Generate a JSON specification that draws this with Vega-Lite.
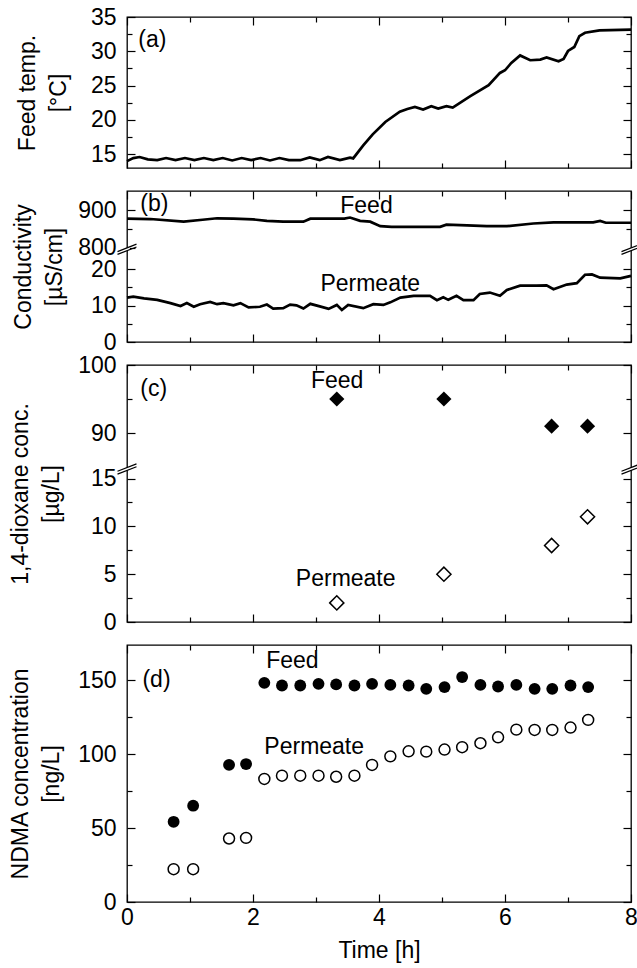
{
  "$schema": "https://vega.github.io/schema/vega-lite/v6.json",
  "padding": {"left": 8, "top": 5, "right": 0, "bottom": 0},
  "bounds": "flush",
  "spacing": 23,
  "datasets": {
    "tempA": [
      {"t":0,"v":14.0},{"t":0.1,"v":14.45},{"t":0.2,"v":14.6},{"t":0.33,"v":14.25},{"t":0.48,"v":14.15},{"t":0.62,"v":14.45},{"t":0.77,"v":14.15},{"t":0.92,"v":14.45},{"t":1.07,"v":14.15},{"t":1.22,"v":14.45},{"t":1.37,"v":14.15},{"t":1.52,"v":14.45},{"t":1.67,"v":14.1},{"t":1.82,"v":14.45},{"t":1.97,"v":14.15},{"t":2.12,"v":14.45},{"t":2.27,"v":14.1},{"t":2.42,"v":14.45},{"t":2.57,"v":14.15},{"t":2.75,"v":14.14},{"t":2.9,"v":14.53},{"t":3.06,"v":14.14},{"t":3.19,"v":14.6},{"t":3.38,"v":14.14},{"t":3.54,"v":14.5},{"t":3.59,"v":14.4},{"t":3.75,"v":16.3},{"t":3.9,"v":17.9},{"t":4.1,"v":19.7},{"t":4.33,"v":21.2},{"t":4.45,"v":21.6},{"t":4.57,"v":21.9},{"t":4.7,"v":21.52},{"t":4.83,"v":22.0},{"t":4.94,"v":21.67},{"t":5.07,"v":22.0},{"t":5.17,"v":21.8},{"t":5.45,"v":23.46},{"t":5.74,"v":25.06},{"t":5.92,"v":26.85},{"t":6.0,"v":27.24},{"t":6.1,"v":28.3},{"t":6.24,"v":29.4},{"t":6.4,"v":28.7},{"t":6.56,"v":28.8},{"t":6.66,"v":29.1},{"t":6.85,"v":28.55},{"t":6.93,"v":28.9},{"t":7.0,"v":30.05},{"t":7.1,"v":30.63},{"t":7.18,"v":32.2},{"t":7.27,"v":32.7},{"t":7.5,"v":33.06},{"t":8.0,"v":33.16}
    ],
    "condB": [
      {"t":0,"v":878,"s":"Feed"},{"t":0.37,"v":877,"s":"Feed"},{"t":0.9,"v":870,"s":"Feed"},{"t":1.2,"v":875,"s":"Feed"},{"t":1.43,"v":879,"s":"Feed"},{"t":1.69,"v":878,"s":"Feed"},{"t":2.0,"v":876,"s":"Feed"},{"t":2.22,"v":872,"s":"Feed"},{"t":2.48,"v":870,"s":"Feed"},{"t":2.8,"v":870,"s":"Feed"},{"t":2.91,"v":878,"s":"Feed"},{"t":3.2,"v":878,"s":"Feed"},{"t":3.45,"v":878,"s":"Feed"},{"t":3.54,"v":881,"s":"Feed"},{"t":3.7,"v":872,"s":"Feed"},{"t":3.86,"v":870,"s":"Feed"},{"t":4.02,"v":858,"s":"Feed"},{"t":4.2,"v":856,"s":"Feed"},{"t":4.6,"v":856,"s":"Feed"},{"t":4.97,"v":856,"s":"Feed"},{"t":5.07,"v":862,"s":"Feed"},{"t":5.4,"v":860,"s":"Feed"},{"t":5.71,"v":858,"s":"Feed"},{"t":6.03,"v":858,"s":"Feed"},{"t":6.45,"v":865,"s":"Feed"},{"t":6.77,"v":868,"s":"Feed"},{"t":7.2,"v":868,"s":"Feed"},{"t":7.4,"v":868,"s":"Feed"},{"t":7.51,"v":872,"s":"Feed"},{"t":7.6,"v":867,"s":"Feed"},{"t":8.0,"v":867,"s":"Feed"},
      {"t":0,"v":12.2,"s":"Permeate"},{"t":0.1,"v":12.5,"s":"Permeate"},{"t":0.27,"v":12.0,"s":"Permeate"},{"t":0.48,"v":11.6,"s":"Permeate"},{"t":0.69,"v":10.7,"s":"Permeate"},{"t":0.85,"v":9.9,"s":"Permeate"},{"t":0.95,"v":10.7,"s":"Permeate"},{"t":1.06,"v":9.7,"s":"Permeate"},{"t":1.16,"v":10.4,"s":"Permeate"},{"t":1.32,"v":11.0,"s":"Permeate"},{"t":1.43,"v":10.4,"s":"Permeate"},{"t":1.53,"v":10.7,"s":"Permeate"},{"t":1.69,"v":10.1,"s":"Permeate"},{"t":1.8,"v":10.7,"s":"Permeate"},{"t":1.93,"v":9.5,"s":"Permeate"},{"t":2.11,"v":9.7,"s":"Permeate"},{"t":2.22,"v":10.3,"s":"Permeate"},{"t":2.32,"v":9.2,"s":"Permeate"},{"t":2.48,"v":9.3,"s":"Permeate"},{"t":2.59,"v":10.3,"s":"Permeate"},{"t":2.69,"v":10.1,"s":"Permeate"},{"t":2.8,"v":9.2,"s":"Permeate"},{"t":2.91,"v":10.5,"s":"Permeate"},{"t":3.06,"v":9.8,"s":"Permeate"},{"t":3.2,"v":9.1,"s":"Permeate"},{"t":3.33,"v":10.2,"s":"Permeate"},{"t":3.41,"v":8.8,"s":"Permeate"},{"t":3.51,"v":10.2,"s":"Permeate"},{"t":3.75,"v":9.3,"s":"Permeate"},{"t":3.91,"v":10.4,"s":"Permeate"},{"t":4.07,"v":10.2,"s":"Permeate"},{"t":4.18,"v":10.9,"s":"Permeate"},{"t":4.34,"v":12.2,"s":"Permeate"},{"t":4.55,"v":12.7,"s":"Permeate"},{"t":4.81,"v":12.7,"s":"Permeate"},{"t":4.92,"v":11.5,"s":"Permeate"},{"t":5.02,"v":12.3,"s":"Permeate"},{"t":5.1,"v":11.6,"s":"Permeate"},{"t":5.23,"v":12.7,"s":"Permeate"},{"t":5.34,"v":11.5,"s":"Permeate"},{"t":5.5,"v":11.5,"s":"Permeate"},{"t":5.6,"v":13.2,"s":"Permeate"},{"t":5.76,"v":13.6,"s":"Permeate"},{"t":5.92,"v":12.7,"s":"Permeate"},{"t":6.03,"v":14.3,"s":"Permeate"},{"t":6.24,"v":15.5,"s":"Permeate"},{"t":6.5,"v":15.5,"s":"Permeate"},{"t":6.66,"v":15.6,"s":"Permeate"},{"t":6.77,"v":14.5,"s":"Permeate"},{"t":6.98,"v":15.8,"s":"Permeate"},{"t":7.14,"v":16.2,"s":"Permeate"},{"t":7.27,"v":18.5,"s":"Permeate"},{"t":7.38,"v":18.6,"s":"Permeate"},{"t":7.51,"v":17.7,"s":"Permeate"},{"t":7.83,"v":17.5,"s":"Permeate"},{"t":8.0,"v":18.2,"s":"Permeate"}
    ],
    "dioxFeed": [{"t":3.33,"v":95},{"t":5.03,"v":95},{"t":6.74,"v":91},{"t":7.31,"v":91}],
    "dioxPerm": [{"t":3.33,"v":2},{"t":5.03,"v":5},{"t":6.74,"v":8},{"t":7.31,"v":11}],
    "ndmaFeed": [
      {"t":0.74,"v":54.3},{"t":1.05,"v":65.2},{"t":1.62,"v":92.8},{"t":1.89,"v":93.4},{"t":2.18,"v":148.4},{"t":2.46,"v":146.6},{"t":2.75,"v":146.6},{"t":3.04,"v":147.7},{"t":3.32,"v":147.3},{"t":3.61,"v":146.6},{"t":3.89,"v":147.7},{"t":4.18,"v":147},{"t":4.47,"v":146.6},{"t":4.75,"v":144.3},{"t":5.04,"v":145.5},{"t":5.32,"v":152.3},{"t":5.61,"v":147},{"t":5.89,"v":145.9},{"t":6.18,"v":147},{"t":6.47,"v":144.3},{"t":6.75,"v":144.3},{"t":7.04,"v":146.6},{"t":7.32,"v":145.5}
    ],
    "ndmaPerm": [
      {"t":0.74,"v":22.2},{"t":1.05,"v":22.2},{"t":1.62,"v":43},{"t":1.89,"v":43.4},{"t":2.18,"v":83.3},{"t":2.46,"v":85.5},{"t":2.75,"v":85.5},{"t":3.04,"v":85.5},{"t":3.32,"v":84.8},{"t":3.61,"v":85.5},{"t":3.89,"v":92.8},{"t":4.18,"v":98.6},{"t":4.47,"v":102},{"t":4.75,"v":101.8},{"t":5.04,"v":103.2},{"t":5.32,"v":104.8},{"t":5.61,"v":107.5},{"t":5.89,"v":111.5},{"t":6.18,"v":116.7},{"t":6.47,"v":116.5},{"t":6.75,"v":116.5},{"t":7.04,"v":118.1},{"t":7.32,"v":123.3}
    ],
    "breakB": [{"t":0,"v":25.5},{"t":8,"v":25.5}],
    "breakC": [{"t":0,"v":16},{"t":8,"v":16}],
    "annA": [{"t":0.18,"v":31.6,"label":"(a)"}],
    "annB": [{"t":0.21,"v":916,"label":"(b)"},{"t":3.385,"v":913,"label":"Feed"},{"t":3.07,"v":15.9,"label":"Permeate"}],
    "annC": [{"t":0.21,"v":96.5,"label":"(c)"},{"t":2.92,"v":97.7,"label":"Feed"},{"t":2.68,"v":4.46,"label":"Permeate"}],
    "annD": [{"t":0.245,"v":150,"label":"(d)"},{"t":2.21,"v":163,"label":"Feed"},{"t":2.18,"v":104.8,"label":"Permeate"}]
  },
  "vconcat": [
    {
      "width": 504, "height": 151,
      "layer": [
        {"data": {"name": "tempA"}, "mark": {"type": "line", "color": "black", "strokeWidth": 2.7},
         "encoding": {
           "x": {"field": "t", "type": "quantitative", "scale": {"domain": [0, 8], "nice": false},
                 "axis": {"orient": "bottom", "values": [0,1,2,3,4,5,6,7,8], "labels": false, "title": null, "tickSize": {"condition": {"test": "datum.value % 2 === 0", "value": -8}, "value": -5}}},
           "y": {"field": "v", "type": "quantitative", "scale": {"domain": [13, 35], "nice": false, "zero": false},
                 "axis": {"orient": "left", "values": [15,17.5,20,22.5,25,27.5,30,32.5,35], "labelExpr": "datum.value % 5 === 0 ? datum.label : ''", "labelPadding": 19, "tickSize": {"condition": {"test": "datum.value % 5 === 0", "value": -8}, "value": -5}, "title": ["Feed temp.", "[°C]"], "titleX": -88}}
         }},
        {"data": {"name": "tempA"}, "mark": {"type": "point", "opacity": 0},
         "encoding": {
           "x": {"field": "t", "type": "quantitative", "axis": {"orient": "top", "values": [0,1,2,3,4,5,6,7,8], "labels": false, "title": null, "tickSize": {"condition": {"test": "datum.value % 2 === 0", "value": -8}, "value": -5}}},
           "y": {"field": "v", "type": "quantitative", "axis": {"orient": "right", "values": [15,17.5,20,22.5,25,27.5,30,32.5,35], "labels": false, "title": null, "tickSize": {"condition": {"test": "datum.value % 5 === 0", "value": -8}, "value": -5}}}
         }},
        {"data": {"name": "annA"}, "mark": {"type": "text", "align": "left", "baseline": "middle"},
         "encoding": {"x": {"field": "t", "type": "quantitative", "axis": null}, "y": {"field": "v", "type": "quantitative", "axis": null}, "text": {"field": "label"}}}
      ],
      "resolve": {"axis": {"x": "independent", "y": "independent"}}
    },
    {
      "width": 504, "height": 151,
      "layer": [
        {"data": {"name": "condB"}, "mark": {"type": "line", "color": "black", "strokeWidth": 2.7},
         "encoding": {
           "x": {"field": "t", "type": "quantitative", "scale": {"domain": [0, 8], "nice": false},
                 "axis": {"orient": "bottom", "values": [0,1,2,3,4,5,6,7,8], "labels": false, "title": null, "tickSize": {"condition": {"test": "datum.value % 2 === 0", "value": -8}, "value": -5}}},
           "y": {"field": "v", "type": "quantitative", "scale": {"domain": [0, 25.5, 796, 952], "range": [151, 58.3, 58.3, 0], "nice": false, "zero": false},
                 "axis": {"orient": "left", "values": [0,5,10,15,20,800,850,900], "labelExpr": "indexof([0,10,20,800,900], datum.value) >= 0 ? datum.label : ''", "labelPadding": 19, "tickSize": {"condition": {"test": "indexof([0,10,20,800,900], datum.value) >= 0", "value": -8}, "value": -5}, "title": ["Conductivity", "[µS/cm]"], "titleX": -92}},
           "detail": {"field": "s"}
         }},
        {"data": {"name": "condB"}, "mark": {"type": "point", "opacity": 0},
         "encoding": {
           "x": {"field": "t", "type": "quantitative", "axis": {"orient": "top", "values": [0,1,2,3,4,5,6,7,8], "labels": false, "title": null, "tickSize": {"condition": {"test": "datum.value % 2 === 0", "value": -8}, "value": -5}}},
           "y": {"field": "v", "type": "quantitative", "axis": {"orient": "right", "values": [0,5,10,15,20,850,900], "labels": false, "title": null, "tickSize": {"condition": {"test": "indexof([0,10,20,800,900], datum.value) >= 0", "value": -8}, "value": -5}}}
         }},
        {"data": {"name": "breakB"}, "mark": {"type": "point", "shape": "M-0.3,0.267L0.3,0.033L0.3,-0.267L-0.3,-0.033Z", "size": 361, "filled": true, "fill": "white", "strokeWidth": 0, "opacity": 1},
         "encoding": {"x": {"field": "t", "type": "quantitative", "axis": null}, "y": {"field": "v", "type": "quantitative", "axis": null}}},
        {"data": {"name": "breakB"}, "mark": {"type": "point", "shape": "M-1,0.54L1,-0.24M-1,0.24L1,-0.54", "size": 361, "filled": false, "stroke": "black", "strokeWidth": 1.2, "opacity": 1},
         "encoding": {"x": {"field": "t", "type": "quantitative", "axis": null}, "y": {"field": "v", "type": "quantitative", "axis": null}}},
        {"data": {"name": "annB"}, "mark": {"type": "text", "align": "left", "baseline": "middle"},
         "encoding": {"x": {"field": "t", "type": "quantitative", "axis": null}, "y": {"field": "v", "type": "quantitative", "axis": null}, "text": {"field": "label"}}}
      ],
      "resolve": {"axis": {"x": "independent", "y": "independent"}}
    },
    {
      "width": 504, "height": 257,
      "layer": [
        {"data": {"name": "dioxFeed"}, "mark": {"type": "point", "shape": "diamond", "size": 230, "filled": true, "color": "black", "opacity": 1},
         "encoding": {
           "x": {"field": "t", "type": "quantitative", "scale": {"domain": [0, 8], "nice": false},
                 "axis": {"orient": "bottom", "values": [0,1,2,3,4,5,6,7,8], "labels": false, "title": null, "tickSize": {"condition": {"test": "datum.value % 2 === 0", "value": -8}, "value": -5}}},
           "y": {"field": "v", "type": "quantitative", "scale": {"domain": [0, 16, 85, 100], "range": [257, 104, 102, 0], "nice": false, "zero": false},
                 "axis": {"orient": "left", "values": [0,2.5,5,7.5,10,12.5,15,90,95,100], "labelExpr": "indexof([0,5,10,15,90,100], datum.value) >= 0 ? datum.label : ''", "labelPadding": 19, "tickSize": {"condition": {"test": "indexof([0,5,10,15,90,100], datum.value) >= 0", "value": -8}, "value": -5}, "title": ["1,4-dioxane conc.", "[µg/L]"], "titleX": -95}}
         }},
        {"data": {"name": "dioxPerm"}, "mark": {"type": "point", "shape": "diamond", "size": 200, "filled": false, "stroke": "black", "strokeWidth": 1.5, "opacity": 1},
         "encoding": {
           "x": {"field": "t", "type": "quantitative", "axis": {"orient": "top", "values": [0,1,2,3,4,5,6,7,8], "labels": false, "title": null, "tickSize": {"condition": {"test": "datum.value % 2 === 0", "value": -8}, "value": -5}}},
           "y": {"field": "v", "type": "quantitative", "axis": {"orient": "right", "values": [0,2.5,5,7.5,10,12.5,15,90,95,100], "labels": false, "title": null, "tickSize": {"condition": {"test": "indexof([0,5,10,15,90,100], datum.value) >= 0", "value": -8}, "value": -5}}}
         }},
        {"data": {"name": "breakC"}, "mark": {"type": "point", "shape": "M-0.3,0.267L0.3,0.033L0.3,-0.267L-0.3,-0.033Z", "size": 361, "filled": true, "fill": "white", "strokeWidth": 0, "opacity": 1},
         "encoding": {"x": {"field": "t", "type": "quantitative", "axis": null}, "y": {"field": "v", "type": "quantitative", "axis": null}}},
        {"data": {"name": "breakC"}, "mark": {"type": "point", "shape": "M-1,0.54L1,-0.24M-1,0.24L1,-0.54", "size": 361, "filled": false, "stroke": "black", "strokeWidth": 1.2, "opacity": 1},
         "encoding": {"x": {"field": "t", "type": "quantitative", "axis": null}, "y": {"field": "v", "type": "quantitative", "axis": null}}},
        {"data": {"name": "annC"}, "mark": {"type": "text", "align": "left", "baseline": "middle"},
         "encoding": {"x": {"field": "t", "type": "quantitative", "axis": null}, "y": {"field": "v", "type": "quantitative", "axis": null}, "text": {"field": "label"}}}
      ],
      "resolve": {"axis": {"x": "independent", "y": "independent"}}
    },
    {
      "width": 504, "height": 257,
      "layer": [
        {"data": {"name": "ndmaFeed"}, "mark": {"type": "point", "shape": "circle", "size": 140, "filled": true, "color": "black", "opacity": 1},
         "encoding": {
           "x": {"field": "t", "type": "quantitative", "scale": {"domain": [0, 8], "nice": false},
                 "axis": {"orient": "bottom", "values": [0,1,2,3,4,5,6,7,8], "labelExpr": "datum.value % 2 === 0 ? datum.label : ''", "labelPadding": 12.5, "title": "Time [h]", "titlePadding": 7, "tickSize": {"condition": {"test": "datum.value % 2 === 0", "value": -8}, "value": -5}}},
           "y": {"field": "v", "type": "quantitative", "scale": {"domain": [0, 174], "nice": false, "zero": false},
                 "axis": {"orient": "left", "values": [0,25,50,75,100,125,150], "labelExpr": "datum.value % 50 === 0 ? datum.label : ''", "labelPadding": 19, "tickSize": {"condition": {"test": "datum.value % 50 === 0", "value": -8}, "value": -5}, "title": ["NDMA concentration", "[ng/L]"], "titleX": -95}}
         }},
        {"data": {"name": "ndmaPerm"}, "mark": {"type": "point", "shape": "circle", "size": 120, "filled": false, "stroke": "black", "strokeWidth": 1.5, "opacity": 1},
         "encoding": {
           "x": {"field": "t", "type": "quantitative", "axis": {"orient": "top", "values": [0,1,2,3,4,5,6,7,8], "labels": false, "title": null, "tickSize": {"condition": {"test": "datum.value % 2 === 0", "value": -8}, "value": -5}}},
           "y": {"field": "v", "type": "quantitative", "axis": {"orient": "right", "values": [0,25,50,75,100,125,150], "labels": false, "title": null, "tickSize": {"condition": {"test": "datum.value % 50 === 0", "value": -8}, "value": -5}}}
         }},
        {"data": {"name": "annD"}, "mark": {"type": "text", "align": "left", "baseline": "middle"},
         "encoding": {"x": {"field": "t", "type": "quantitative", "axis": null}, "y": {"field": "v", "type": "quantitative", "axis": null}, "text": {"field": "label"}}}
      ],
      "resolve": {"axis": {"x": "independent", "y": "independent"}}
    }
  ],
  "config": {
    "font": "Liberation Sans",
    "view": {"stroke": "black", "strokeWidth": 1.3},
    "axis": {"domain": false, "grid": false, "labelFont": "Liberation Sans", "labelFontSize": 23, "labelColor": "black", "titleFont": "Liberation Sans", "titleFontSize": 23, "titleFontWeight": "normal", "titleColor": "black", "tickColor": "black", "tickWidth": 1.2, "labelFlush": false, "labelOverlap": false, "titleLineHeight": 31},
    "text": {"font": "Liberation Sans", "fontSize": 23, "color": "black"}
  }
}
